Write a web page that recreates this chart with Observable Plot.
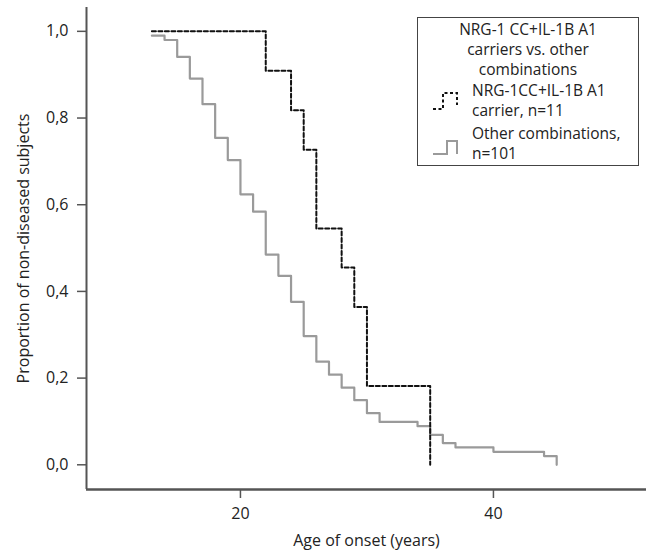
<!DOCTYPE html>
<html>
<head>
<meta charset="utf-8">
<script src="https://cdn.jsdelivr.net/npm/d3@7"></script>
<script src="https://cdn.jsdelivr.net/npm/@observablehq/plot@0.6"></script>
<style>
  html, body { margin: 0; padding: 0; background: #fff; }
  #wrap { position: relative; width: 647px; height: 553px; font-family: "Open Sans", sans-serif; color: #222; }
  #wrap svg text { font-size: 16px; }
  #legend { position: absolute; left: 417px; top: 17px; width: 222px; height: 149px; border: 1px solid #444; box-sizing: border-box; background: #fff; font-size: 15.5px; line-height: 20px; }
  #legend .title { text-align: center; margin-top: 1px; }
  #legend .entry { position: relative; padding-left: 54px; margin-top: 1px; }
  #legend svg { position: absolute; left: 14px; top: 0; }
</style>
</head>
<body>
<div id="wrap"></div>
<script>
// Data (Kaplan–Meier style step curves)
const carrierAge  = [13, 22, 24, 25, 26, 28, 29, 30, 35];
const carrierSurv = [1.0, 0.909, 0.818, 0.727, 0.545, 0.455, 0.364, 0.182, 0.0];

const otherAge  = [13, 14, 15, 16, 17, 18, 19, 20, 21, 22, 23, 24, 25, 26, 27, 28, 29, 30, 31, 34, 35, 36, 37, 40, 44, 45];
const otherSurv = [0.99, 0.98, 0.941, 0.891, 0.832, 0.754, 0.703, 0.624, 0.584, 0.485, 0.436, 0.376, 0.297, 0.238, 0.208, 0.178, 0.149, 0.119, 0.099, 0.089, 0.069, 0.050, 0.040, 0.030, 0.020, 0.0];

const xTicks = [20, 40];
const yTicks = [0, 0.2, 0.4, 0.6, 0.8, 1.0];
const xDomain = [7.83, 52.1];
const yDomain = [-0.057, 1.055];

const legendTitle = ["NRG-1 CC+IL-1B A1", "carriers vs. other", "combinations"];
const seriesNames = ["NRG-1CC+IL-1B A1 carrier, n=11", "Other combinations, n=101"];

const carrier = carrierAge.map((a, i) => ({age: a, surv: carrierSurv[i]}));
const other = otherAge.map((a, i) => ({age: a, surv: otherSurv[i]}));

const axisColor = "#555";

const chart = Plot.plot({
  width: 647,
  height: 553,
  marginLeft: 86,
  marginRight: 1,
  marginTop: 7,
  marginBottom: 64,
  style: {fontFamily: "'Open Sans', sans-serif", fontSize: "16px", color: "#222", background: "#fff"},
  x: {domain: xDomain},
  y: {domain: yDomain},
  marks: [
    Plot.axisX({ticks: xTicks, tickSize: 9, tickPadding: 9, label: "Age of onset (years)", labelAnchor: "center", labelArrow: false, labelOffset: 56, stroke: axisColor, strokeWidth: 1.5}),
    Plot.axisY({ticks: yTicks, tickSize: 9, tickPadding: 9, tickFormat: d => d.toFixed(1).replace(".", ","), label: "Proportion of non-diseased subjects", labelAnchor: "center", labelArrow: false, labelOffset: 69, stroke: axisColor, strokeWidth: 1.5}),
    Plot.ruleX([xDomain[0]], {stroke: axisColor, strokeWidth: 2}),
    Plot.ruleY([yDomain[0]], {stroke: axisColor, strokeWidth: 2.5}),
    Plot.lineY(other, {x: "age", y: "surv", curve: "step-after", stroke: "#9a9a9a", strokeWidth: 2.2}),
    Plot.lineY(carrier, {x: "age", y: "surv", curve: "step-after", stroke: "#111", strokeWidth: 2, strokeDasharray: "4,2.5"})
  ]
});

const wrap = document.getElementById("wrap");
wrap.appendChild(chart);

// Legend (HTML overlay inside the plot area, as in the reference)
const legend = document.createElement("div");
legend.id = "legend";
legend.innerHTML =
  `<div class="title">${legendTitle.join("<br>")}</div>` +
  `<div class="entry"><svg width="30" height="34" viewBox="0 0 30 34"><path d="M1,29 H11 V13 H25 V25" fill="none" stroke="#111" stroke-width="2" stroke-dasharray="3,2.5"/></svg>${seriesNames[0].replace(" carrier", "<br>carrier")}</div>` +
  `<div class="entry" style="margin-top:3px"><svg width="30" height="44" viewBox="0 0 30 44"><path d="M1,31 H15 V18 H25 V31" fill="none" stroke="#9a9a9a" stroke-width="2"/></svg>${seriesNames[1].replace(" n=", "<br>n=")}</div>`;
wrap.appendChild(legend);
</script>
</body>
</html>
